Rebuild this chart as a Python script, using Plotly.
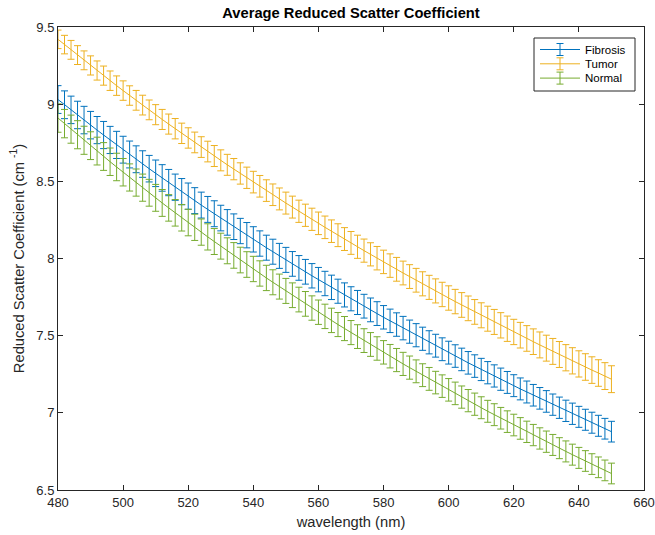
import plotly.graph_objects as go

# Wavelength grid (nm), one sample every 2 nm
wavelength = list(range(480, 651, 2))

# Mean reduced scatter coefficient (cm^-1) per tissue class
fibrosis = [
    9.030, 8.996, 8.963, 8.930, 8.897, 8.864, 8.832, 8.800, 8.768, 8.736,
    8.705, 8.674, 8.643, 8.612, 8.582, 8.552, 8.522, 8.492, 8.462, 8.433,
    8.404, 8.375, 8.346, 8.318, 8.290, 8.262, 8.234, 8.206, 8.178, 8.151,
    8.124, 8.097, 8.070, 8.044, 8.017, 7.991, 7.965, 7.939, 7.914, 7.888,
    7.863, 7.838, 7.813, 7.788, 7.764, 7.739, 7.715, 7.691, 7.667, 7.643,
    7.619, 7.596, 7.572, 7.549, 7.526, 7.503, 7.480, 7.457, 7.435, 7.412,
    7.390, 7.368, 7.346, 7.324, 7.303, 7.281, 7.260, 7.239, 7.218, 7.197,
    7.176, 7.155, 7.135, 7.114, 7.094, 7.074, 7.053, 7.033, 7.013, 6.994,
    6.974, 6.955, 6.936, 6.916, 6.897, 6.878,
]
tumor = [
    9.420, 9.386, 9.352, 9.318, 9.284, 9.251, 9.218, 9.185, 9.152, 9.120,
    9.088, 9.056, 9.025, 8.994, 8.963, 8.932, 8.901, 8.871, 8.841, 8.811,
    8.781, 8.752, 8.722, 8.693, 8.664, 8.636, 8.607, 8.579, 8.551, 8.523,
    8.495, 8.468, 8.440, 8.413, 8.386, 8.359, 8.333, 8.306, 8.280, 8.254,
    8.228, 8.202, 8.177, 8.151, 8.126, 8.101, 8.076, 8.051, 8.027, 8.002,
    7.978, 7.954, 7.930, 7.906, 7.883, 7.859, 7.836, 7.813, 7.790, 7.767,
    7.744, 7.721, 7.699, 7.677, 7.654, 7.632, 7.610, 7.589, 7.567, 7.545,
    7.524, 7.503, 7.482, 7.461, 7.440, 7.419, 7.398, 7.378, 7.357, 7.337,
    7.317, 7.297, 7.277, 7.258, 7.238, 7.218,
]
normal = [
    8.910, 8.874, 8.838, 8.802, 8.766, 8.731, 8.696, 8.661, 8.627, 8.593,
    8.559, 8.525, 8.492, 8.459, 8.426, 8.393, 8.360, 8.328, 8.296, 8.264,
    8.233, 8.202, 8.171, 8.140, 8.110, 8.080, 8.050, 8.020, 7.990, 7.961,
    7.932, 7.903, 7.874, 7.846, 7.818, 7.790, 7.762, 7.734, 7.706, 7.679,
    7.652, 7.625, 7.599, 7.572, 7.546, 7.520, 7.494, 7.468, 7.443, 7.417,
    7.392, 7.367, 7.342, 7.317, 7.293, 7.269, 7.244, 7.220, 7.196, 7.173,
    7.149, 7.126, 7.102, 7.079, 7.056, 7.033, 7.010, 6.988, 6.965, 6.943,
    6.921, 6.899, 6.877, 6.856, 6.834, 6.813, 6.792, 6.771, 6.750, 6.729,
    6.708, 6.688, 6.668, 6.647, 6.627, 6.607,
]

# Error bar half-lengths (cm^-1)
fibrosis_err = [
    0.090, 0.090, 0.089, 0.089, 0.089, 0.089, 0.088, 0.088, 0.088, 0.088,
    0.087, 0.087, 0.087, 0.086, 0.086, 0.086, 0.086, 0.085, 0.085, 0.085,
    0.085, 0.084, 0.084, 0.084, 0.084, 0.083, 0.083, 0.083, 0.082, 0.082,
    0.082, 0.082, 0.081, 0.081, 0.081, 0.081, 0.080, 0.080, 0.080, 0.079,
    0.079, 0.079, 0.079, 0.078, 0.078, 0.078, 0.078, 0.077, 0.077, 0.077,
    0.076, 0.076, 0.076, 0.076, 0.075, 0.075, 0.075, 0.075, 0.074, 0.074,
    0.074, 0.073, 0.073, 0.073, 0.073, 0.072, 0.072, 0.072, 0.072, 0.071,
    0.071, 0.071, 0.071, 0.070, 0.070, 0.070, 0.069, 0.069, 0.069, 0.069,
    0.068, 0.068, 0.068, 0.068, 0.067, 0.067,
]
tumor_err = [
    0.060, 0.060, 0.061, 0.061, 0.061, 0.062, 0.062, 0.062, 0.063, 0.063,
    0.063, 0.063, 0.064, 0.064, 0.064, 0.065, 0.065, 0.065, 0.066, 0.066,
    0.066, 0.067, 0.067, 0.067, 0.068, 0.068, 0.068, 0.069, 0.069, 0.069,
    0.070, 0.070, 0.070, 0.070, 0.071, 0.071, 0.071, 0.072, 0.072, 0.072,
    0.073, 0.073, 0.073, 0.074, 0.074, 0.074, 0.075, 0.075, 0.075, 0.076,
    0.076, 0.076, 0.077, 0.077, 0.077, 0.077, 0.078, 0.078, 0.078, 0.079,
    0.079, 0.079, 0.080, 0.080, 0.080, 0.081, 0.081, 0.081, 0.082, 0.082,
    0.082, 0.083, 0.083, 0.083, 0.084, 0.084, 0.084, 0.084, 0.085, 0.085,
    0.085, 0.086, 0.086, 0.086, 0.087, 0.087,
]
normal_err = [
    0.092, 0.092, 0.091, 0.091, 0.091, 0.090, 0.090, 0.090, 0.089, 0.089,
    0.089, 0.088, 0.088, 0.088, 0.087, 0.087, 0.087, 0.086, 0.086, 0.086,
    0.086, 0.085, 0.085, 0.085, 0.084, 0.084, 0.084, 0.083, 0.083, 0.083,
    0.082, 0.082, 0.082, 0.081, 0.081, 0.081, 0.080, 0.080, 0.080, 0.079,
    0.079, 0.079, 0.079, 0.078, 0.078, 0.078, 0.077, 0.077, 0.077, 0.076,
    0.076, 0.076, 0.075, 0.075, 0.075, 0.074, 0.074, 0.074, 0.073, 0.073,
    0.073, 0.073, 0.072, 0.072, 0.072, 0.071, 0.071, 0.071, 0.070, 0.070,
    0.070, 0.070, 0.069, 0.069, 0.069, 0.069, 0.068, 0.068, 0.068, 0.068,
    0.068, 0.067, 0.067, 0.067, 0.067, 0.067,
]

x_ticks = list(range(480, 661, 20))
y_ticks = [6.5, 7.0, 7.5, 8.0, 8.5, 9.0, 9.5]
y_tick_labels = ["6.5", "7", "7.5", "8", "8.5", "9", "9.5"]

FONT = "Liberation Sans, Arial, Helvetica, sans-serif"
INK = "#262626"
LABEL_SIZE = 14.7

W, H = 655, 535
M_L, M_R, M_T, M_B = 58, 11, 27, 45
PLOT_W = W - M_L - M_R
PLOT_H = H - M_T - M_B

series = [
    ("Fibrosis", fibrosis, fibrosis_err, "#0072BD"),
    ("Tumor", tumor, tumor_err, "#EDB120"),
    ("Normal", normal, normal_err, "#77AC30"),
]

fig = go.Figure()
for name, values, errs, color in series:
    fig.add_trace(go.Scatter(
        x=wavelength,
        y=values,
        mode="lines",
        name=name,
        showlegend=False,
        line=dict(color=color, width=1),
        error_y=dict(type="data", array=errs, visible=True,
                     color=color, thickness=1, width=3.5),
    ))


# Legend box drawn in paper space, MATLAB style (line with an I-bar glyph)
def px_x(p):
    return (p - M_L) / PLOT_W


def px_y(p):
    return 1 - (p - M_T) / PLOT_H


shapes = [dict(type="rect", xref="paper", yref="paper",
               x0=px_x(534), x1=px_x(635), y0=px_y(91), y1=px_y(38),
               line=dict(color=INK, width=1), fillcolor="white", layer="above")]
annotations = []
for i, (name, _, _, color) in enumerate(series):
    cy = 49.5 + 14.3 * i
    shapes.append(dict(type="line", xref="paper", yref="paper",
                       x0=px_x(540), x1=px_x(580), y0=px_y(cy), y1=px_y(cy),
                       line=dict(color=color, width=1), layer="above"))
    shapes.append(dict(type="line", xref="paper", yref="paper",
                       x0=px_x(560), x1=px_x(560), y0=px_y(cy - 6), y1=px_y(cy + 6),
                       line=dict(color=color, width=1), layer="above"))
    for cap in (cy - 6, cy + 6):
        shapes.append(dict(type="line", xref="paper", yref="paper",
                           x0=px_x(556.5), x1=px_x(563.5), y0=px_y(cap), y1=px_y(cap),
                           line=dict(color=color, width=1), layer="above"))
    annotations.append(dict(text=name, xref="paper", yref="paper",
                            x=px_x(583), y=px_y(cy), xanchor="left", yanchor="middle",
                            showarrow=False,
                            font=dict(family=FONT, size=11.5, color="black")))

axis_common = dict(
    showline=True, linecolor=INK, linewidth=1, mirror="ticks",
    ticks="inside", ticklen=5, tickcolor=INK, tickwidth=1,
    showgrid=False, zeroline=False, automargin=False,
    tickfont=dict(family=FONT, size=13, color=INK),
)

fig.update_layout(
    width=W, height=H,
    margin=dict(l=M_L, r=M_R, t=M_T, b=M_B),
    paper_bgcolor="white", plot_bgcolor="white",
    font=dict(family=FONT, color=INK),
    title=dict(
        text="<b>Average Reduced Scatter Coefficient</b>",
        x=0.5, xref="paper", xanchor="center",
        y=1 - 13 / H, yref="container", yanchor="middle",
        font=dict(family=FONT, size=LABEL_SIZE, color="black"),
    ),
    xaxis=dict(
        range=[480, 660], tickvals=x_ticks,
        title=dict(text="wavelength (nm)", standoff=8,
                   font=dict(family=FONT, size=LABEL_SIZE, color=INK)),
        **axis_common,
    ),
    yaxis=dict(
        range=[6.5, 9.5], tickvals=y_ticks, ticktext=y_tick_labels,
        title=dict(text="Reduced Scatter Coefficient (cm <sup>-1</sup>)", standoff=8,
                   font=dict(family=FONT, size=LABEL_SIZE, color=INK)),
        **axis_common,
    ),
    shapes=shapes,
    annotations=annotations,
    showlegend=False,
)

fig.write_html("out.html")
